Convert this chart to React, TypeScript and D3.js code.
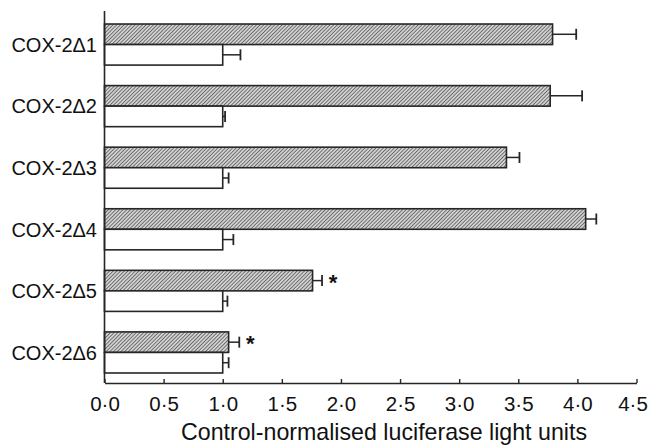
import React, { useEffect, useRef } from 'react'
import * as d3 from 'd3'

const categories = ['COX-2Δ1', 'COX-2Δ2', 'COX-2Δ3', 'COX-2Δ4', 'COX-2Δ5', 'COX-2Δ6']
const treated = [3.79, 3.77, 3.40, 4.07, 1.76, 1.05]
const treatedErr = [0.20, 0.27, 0.11, 0.09, 0.08, 0.09]
const control = [1.0, 1.0, 1.0, 1.0, 1.0, 1.0]
const controlErr = [0.15, 0.02, 0.05, 0.09, 0.04, 0.05]
const significant = [false, false, false, false, true, true]
const xTicks = [0, 0.5, 1, 1.5, 2, 2.5, 3, 3.5, 4, 4.5]

const W = 649
const H = 445
const font = '"Liberation Sans", Arial, Helvetica, sans-serif'
const ink = '#262626'

export default function App() {
  const axisRef = useRef<SVGGElement>(null)

  const x = d3.scaleLinear().domain([0, 4.5]).range([104.5, 636.5])
  const y = d3.scaleBand().domain(categories).range([13.75, 383.25]).paddingInner(0.333).paddingOuter(0.1667)
  const sub = d3.scaleBand().domain(['treated', 'control']).range([0, y.bandwidth()])
  const axisY = 383

  useEffect(() => {
    const g = d3.select(axisRef.current)
    g.selectAll('*').remove()
    g.call(
      d3.axisBottom(x)
        .tickValues(xTicks)
        .tickSizeInner(-4)
        .tickSizeOuter(0)
        .tickPadding(13.5)
        .tickFormat((d) => d3.format('.1f')(d as number).replace('.', '·'))
    )
    g.select('.domain').attr('stroke', ink).attr('stroke-width', 1.6)
    g.selectAll('.tick line').attr('stroke', ink).attr('stroke-width', 1.4)
    g.selectAll('.tick text')
      .attr('fill', '#111')
      .attr('dx', (d) => ((d as number) === 4.5 ? -4 : 0))
      .style('font-family', font)
      .style('font-size', '20.5px')
  }, [])

  const bars = categories.map((c, i) => {
    const y0 = y(c) as number
    const h = sub.bandwidth()
    const rows = [
      { key: 'treated', v: treated[i], e: treatedErr[i], fill: 'url(#hatch)' },
      { key: 'control', v: control[i], e: controlErr[i], fill: '#fff' },
    ]
    return (
      <g key={c}>
        {rows.map((r) => {
          const ry = y0 + (sub(r.key) as number)
          const cy = ry + h / 2
          return (
            <g key={r.key}>
              <line x1={x(r.v)} x2={x(r.v + r.e)} y1={cy} y2={cy} stroke={ink} strokeWidth={1.5} />
              <line x1={x(r.v + r.e)} x2={x(r.v + r.e)} y1={cy - 5.5} y2={cy + 5.5} stroke={ink} strokeWidth={1.8} />
              <rect x={x(0)} y={ry} width={x(r.v) - x(0)} height={h} fill={r.fill} stroke={ink} strokeWidth={1.6} />
            </g>
          )
        })}
        {significant[i] && (
          <text
            x={x(treated[i] + treatedErr[i]) + 11}
            y={y0 + h / 2 + 9}
            textAnchor="middle"
            fontFamily={font}
            fontSize={22}
            fontWeight="bold"
            fill="#111"
          >
            *
          </text>
        )}
        <text
          x={97}
          y={y0 + y.bandwidth() / 2 + 7.3}
          textAnchor="end"
          fontFamily={font}
          fontSize={20}
          fill="#111"
        >
          {c}
        </text>
      </g>
    )
  })

  return (
    <svg width={W} height={H} style={{ position: 'absolute', left: 0, top: 0, background: '#fff' }}>
      <defs>
        <pattern id="hatch" patternUnits="userSpaceOnUse" width={2.6} height={2.6} patternTransform="rotate(45)">
          <rect width={2.6} height={2.6} fill="#dedede" />
          <line x1={1.3} y1={0} x2={1.3} y2={2.6} stroke="#666" strokeWidth={1.05} />
        </pattern>
      </defs>
      {bars}
      <line x1={x(0)} x2={x(0)} y1={11} y2={axisY} stroke={ink} strokeWidth={1.6} />
      <g ref={axisRef} transform={`translate(0,${axisY})`} />
      <text x={384} y={440} textAnchor="middle" fontFamily={font} fontSize={23.2} fill="#111">
        Control-normalised luciferase light units
      </text>
    </svg>
  )
}
